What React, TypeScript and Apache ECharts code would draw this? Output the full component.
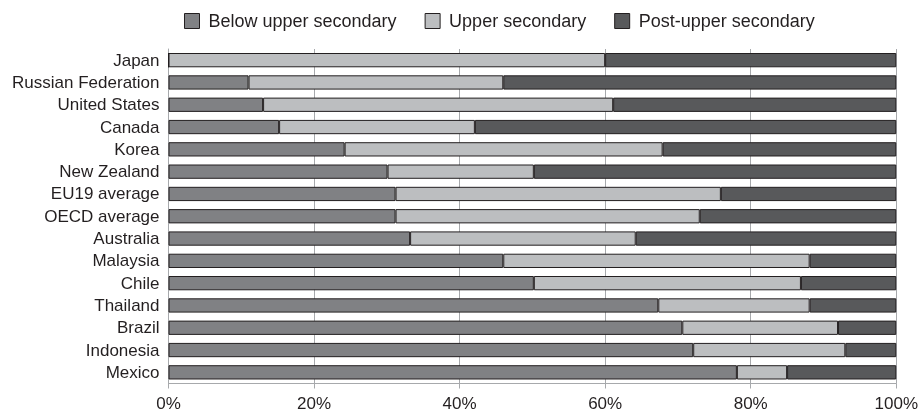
import React, { useEffect, useRef } from "react";
import * as echarts from "echarts";

const categories = [
  "Japan",
  "Russian Federation",
  "United States",
  "Canada",
  "Korea",
  "New Zealand",
  "EU19 average",
  "OECD average",
  "Australia",
  "Malaysia",
  "Chile",
  "Thailand",
  "Brazil",
  "Indonesia",
  "Mexico",
];

const belowUpperSecondary = [0, 11, 13, 15.2, 24.2, 30.1, 31.2, 31.2, 33.2, 46, 50.2, 67.3, 70.6, 72.1, 78.1];
const upperSecondary = [60, 35, 48.1, 26.9, 43.7, 20.1, 44.7, 41.8, 31, 42.1, 36.7, 20.8, 21.4, 20.9, 6.9];
const postUpperSecondary = [40, 54, 38.9, 57.9, 32.1, 49.8, 24.1, 27, 35.8, 11.9, 13.1, 11.9, 8, 7, 15];

const seriesNames = ["Below upper secondary", "Upper secondary", "Post-upper secondary"];
const xTicks = [0, 20, 40, 60, 80, 100];

const FONT = "'Liberation Sans', Arial, sans-serif";
const TEXT = "#231f20";
const GRID = "#a7a9ac";

export default function App() {
  const ref = useRef<HTMLDivElement>(null);

  useEffect(() => {
    if (!ref.current) return;
    const chart = echarts.init(ref.current, undefined, { renderer: "svg" });
    const colors = ["#808184", "#bcbec0", "#58595b"];
    const data = [belowUpperSecondary, upperSecondary, postUpperSecondary];
    chart.setOption({
      animation: false,
      textStyle: { fontFamily: FONT, color: TEXT },
      legend: {
        top: 12,
        left: 184,
        padding: 0,
        itemWidth: 15,
        itemHeight: 15,
        itemGap: 28,
        textStyle: { fontFamily: FONT, fontSize: 18, color: TEXT, padding: [0, 0, 0, 4] },
        data: seriesNames.map((n, i) => ({
          name: n,
          icon: "rect",
          itemStyle: { color: colors[i], borderColor: TEXT, borderWidth: 1 },
        })),
      },
      grid: { left: 168.5, right: 23, top: 49, bottom: 28.5, containLabel: false },
      xAxis: {
        type: "value",
        min: 0,
        max: 100,
        interval: 20,
        axisLine: { show: true, lineStyle: { color: GRID, width: 1 } },
        axisTick: { show: true, length: 5, lineStyle: { color: GRID } },
        splitLine: { show: true, lineStyle: { color: GRID, width: 1 } },
        axisLabel: {
          fontFamily: FONT,
          fontSize: 17,
          color: TEXT,
          margin: 11,
          formatter: (v: number) => (xTicks.includes(v) ? v + "%" : ""),
        },
      },
      yAxis: {
        type: "category",
        inverse: true,
        data: categories,
        axisLine: { show: true, lineStyle: { color: GRID, width: 1 } },
        axisTick: { show: false },
        axisLabel: { fontFamily: FONT, fontSize: 17, color: TEXT, margin: 9 },
      },
      series: seriesNames.map((name, i) => ({
        name,
        type: "bar",
        stack: "total",
        barWidth: "64%",
        data: data[i],
        itemStyle: { color: colors[i], borderColor: TEXT, borderWidth: 1 },
      })),
    });
    return () => chart.dispose();
  }, []);

  return (
    <div
      ref={ref}
      style={{ position: "fixed", left: 0, top: 0, width: 921, height: 412 }}
    />
  );
}
